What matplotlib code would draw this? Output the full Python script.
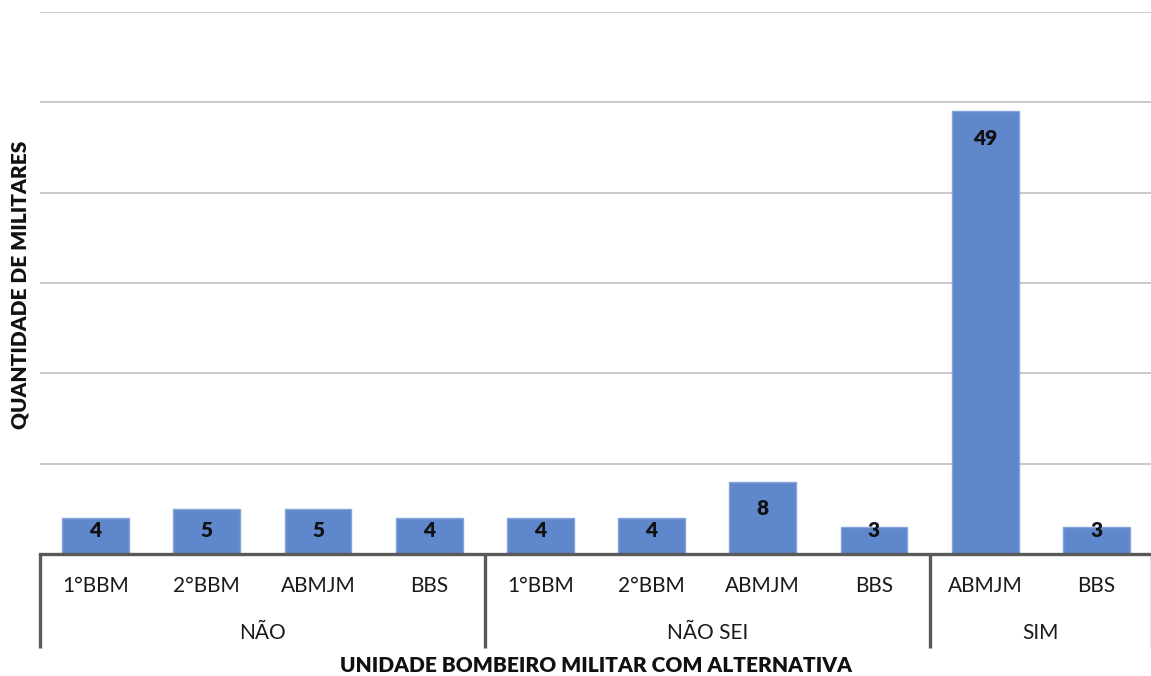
import matplotlib
matplotlib.use("Agg")
import matplotlib.pyplot as plt
from matplotlib.transforms import blended_transform_factory

plt.rcParams['font.family'] = ['Lato', 'DejaVu Sans']

# Answer groups and the units within each group
groups = ["NÃO", "NÃO SEI", "SIM"]
units = [
    ["1°BBM", "2°BBM", "ABMJM", "BBS"],
    ["1°BBM", "2°BBM", "ABMJM", "BBS"],
    ["ABMJM", "BBS"],
]
counts = [
    [4, 5, 5, 4],
    [4, 4, 8, 3],
    [49, 3],
]

y_max = 60
y_step = 10

W, H = 1151, 676
fig = plt.figure(figsize=(W / 100, H / 100), dpi=100)
ax = fig.add_axes([40 / W, (H - 554) / H, 1112 / W, 542 / H])

labels, values = [], []
for u, c in zip(units, counts):
    labels += u
    values += c
x = list(range(len(values)))

ax.set_axisbelow(True)
ax.yaxis.grid(True, color="#c8c8c8", linewidth=1.4)
ax.set_ylim(0, y_max)
ax.set_yticks(range(0, y_max + 1, y_step))
ax.set_xlim(-0.5, len(values) - 0.5)

ax.bar(x, values, width=0.6, color="#5f87cb", edgecolor="#86a5da", linewidth=1.0)

# Value labels inside the top of each bar
for xi, v in zip(x, values):
    ax.text(xi, max(v - 3.0, 2.65), str(v), ha="center", va="center",
            fontsize=15, fontweight="heavy", color="#111111")

for side in ["top", "left", "right"]:
    ax.spines[side].set_visible(False)
ax.spines["bottom"].set_color("#595959")
ax.spines["bottom"].set_linewidth(2.4)
ax.tick_params(axis="both", length=0, labelleft=False, labelbottom=False)

trans = blended_transform_factory(ax.transData, ax.transAxes)

# Unit labels (first row)
for xi, lab in zip(x, labels):
    ax.text(xi, -0.059, lab, transform=trans, ha="center", va="center",
            fontsize=15, color="#1a1a1a", clip_on=False)

# Group labels (second row) and separators
start = 0
bounds = [-0.5]
for g, u in zip(groups, units):
    n = len(u)
    mid = start + (n - 1) / 2
    ax.text(mid, -0.1458, g, transform=trans, ha="center", va="center",
            fontsize=15, color="#1a1a1a", clip_on=False)
    start += n
    bounds.append(start - 0.5)
for b in bounds:
    ax.plot([b, b], [0, -0.1734], transform=trans, color="#595959",
            linewidth=2.4, clip_on=False, solid_capstyle="butt")

ax.text(0.5, -0.2066, "UNIDADE BOMBEIRO MILITAR COM ALTERNATIVA",
        transform=ax.transAxes, ha="center", va="center",
        fontsize=15, fontweight="heavy", color="#111111")
fig.text(20 / W, (H - 285) / H, "QUANTIDADE DE MILITARES", rotation=90,
         ha="center", va="center", fontsize=15, fontweight="heavy",
         color="#111111")

fig.savefig("out.png", dpi=100)
